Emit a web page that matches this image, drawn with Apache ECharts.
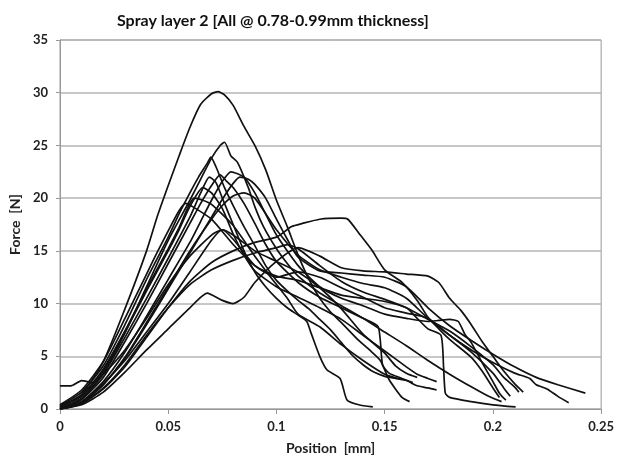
<!DOCTYPE html>
<html>
<head>
<meta charset="utf-8">
<script src="https://cdn.jsdelivr.net/npm/echarts@6/dist/echarts.min.js"></script>
<style>
  html, body { margin: 0; padding: 0; background: #fff; }
  #main { width: 617px; height: 465px; }
</style>
</head>
<body>
<div id="main"></div>
<script>
// force vs position curves as [position mm, force N]
var curve1 = [[0,0.2],[0.01,1.4],[0.02,4.5],[0.03,9.5],[0.04,15],[0.045,18.3],[0.05,21.2],[0.055,24],[0.06,26.7],[0.065,28.9],[0.07,29.9],[0.073,30.1],[0.076,29.8],[0.08,28.8],[0.085,26.8],[0.09,25],[0.095,22.7],[0.1,19.8],[0.105,17.3],[0.11,14.6],[0.115,12.3],[0.12,10.5],[0.125,9.2],[0.13,8.2],[0.138,6.5],[0.143,5.6],[0.148,4.6],[0.152,2.8],[0.158,1.1],[0.1615,0.7]];
var curve2 = [[0,0],[0.01,1],[0.02,3.4],[0.03,7.2],[0.04,11.6],[0.05,16],[0.06,19.8],[0.065,21.8],[0.07,23.8],[0.074,25],[0.076,25.3],[0.079,24],[0.082,23.4],[0.087,21],[0.09,19.2],[0.094,17.3],[0.1,15.2],[0.105,13.8],[0.11,12.6],[0.12,11],[0.13,9.8],[0.14,8.6],[0.15,7.3],[0.16,6],[0.17,4.6],[0.18,3.3],[0.19,2.1],[0.198,1.2],[0.204,0.7]];
var curve3 = [[0,0.3],[0.01,1.6],[0.02,4.1],[0.03,8],[0.04,12.3],[0.05,16.3],[0.055,18.5],[0.06,20.5],[0.064,22],[0.068,23.3],[0.0697,23.9],[0.072,23],[0.076,21],[0.08,19.3],[0.085,17.3],[0.09,15.5],[0.095,13.6],[0.1,12.2],[0.105,11.2],[0.11,10.3],[0.115,9.5],[0.12,8.5],[0.125,7.5],[0.13,6.3],[0.135,5.1],[0.14,4.2],[0.145,3.5],[0.15,3.1],[0.155,2.9],[0.16,2.7],[0.165,2.2],[0.17,2],[0.174,1.8]];
var curve4 = [[0,0.1],[0.01,1],[0.02,3.3],[0.03,6.8],[0.04,10.5],[0.05,14.3],[0.06,18.2],[0.065,20.5],[0.069,22],[0.072,21.5],[0.075,20],[0.08,17.5],[0.085,15],[0.09,13],[0.095,11.6],[0.1,10.5],[0.105,9.6],[0.11,8.9],[0.114,8.3],[0.116,7.2],[0.1202,4.9],[0.1234,3.7],[0.1294,2.9],[0.1326,0.85],[0.138,0.4],[0.1445,0.2]];
var curve5 = [[0,0],[0.01,0.9],[0.02,3],[0.03,6.4],[0.04,10],[0.05,13.8],[0.06,17.6],[0.065,19.5],[0.07,21.2],[0.074,22.2],[0.077,21.6],[0.08,21],[0.085,19.5],[0.09,17.6],[0.095,15.6],[0.1,14],[0.11,12],[0.12,10.6],[0.13,9.6],[0.14,8.6],[0.147,7.8],[0.149,4.2],[0.152,3.4],[0.158,2.9],[0.163,2.5]];
var curve6 = [[0,0],[0.01,0.7],[0.02,2.6],[0.03,5.4],[0.04,8.8],[0.05,12.3],[0.06,15.8],[0.065,17.8],[0.07,19.8],[0.075,21.6],[0.079,22.5],[0.085,22],[0.09,20.5],[0.095,18.5],[0.1,16.5],[0.11,13.6],[0.12,11.6],[0.13,10.5],[0.14,9.8],[0.15,9],[0.16,8.6],[0.17,8.3],[0.175,8.4],[0.18,8.5],[0.184,8.3],[0.187,7.1],[0.19,6.3],[0.195,4.4],[0.2,2.6],[0.203,1.5],[0.206,0.85]];
var curve7 = [[0,0.1],[0.01,0.6],[0.02,2.3],[0.03,4.8],[0.04,8],[0.05,11.4],[0.06,14.8],[0.07,18.2],[0.075,19.9],[0.08,21.4],[0.083,22],[0.087,21.8],[0.09,21.3],[0.095,20],[0.1,18],[0.105,16.1],[0.11,14.4],[0.12,13.1],[0.13,12.9],[0.14,12.7],[0.15,12.5],[0.16,11.6],[0.17,9.6],[0.18,7.9],[0.19,6.5],[0.2,5.2],[0.21,4],[0.22,3],[0.23,2.3],[0.2427,1.5]];
var curve8 = [[0,0.2],[0.01,1.2],[0.02,3.6],[0.03,7.3],[0.04,11.2],[0.05,15],[0.055,17],[0.06,19.2],[0.066,21],[0.07,20.5],[0.075,19],[0.08,16.6],[0.085,14.6],[0.09,13.1],[0.1,11.6],[0.11,10.6],[0.12,9.6],[0.13,8.5],[0.14,7],[0.15,5.5],[0.16,4],[0.165,3.3],[0.17,2.9],[0.174,2.6]];
var curve9 = [[0,0.4],[0.01,1.8],[0.02,4.5],[0.03,8.6],[0.04,12.8],[0.045,14.9],[0.05,16.9],[0.055,18.8],[0.058,19.5],[0.062,19.1],[0.07,18],[0.08,15.6],[0.09,13.6],[0.1,12.6],[0.11,12.2],[0.12,11.5],[0.13,10.8],[0.14,10.5],[0.15,10.2],[0.16,9.6],[0.165,8.6],[0.17,7.6],[0.176,7],[0.1772,4],[0.178,1.5],[0.18,1.1],[0.19,0.7],[0.2,0.4],[0.2105,0.2]];
var curve10 = [[0,0],[0.01,0.6],[0.02,2.3],[0.03,4.9],[0.04,8.2],[0.05,11.6],[0.06,15],[0.07,18],[0.075,19.3],[0.08,20.2],[0.085,20.5],[0.09,20],[0.1,17],[0.11,14.6],[0.12,13.2],[0.13,12.5],[0.14,11.9],[0.15,11.5],[0.16,10.5],[0.17,8.6],[0.18,7],[0.19,5.6],[0.2,4.4],[0.21,3.4],[0.217,2.9],[0.22,2.3],[0.225,1.9],[0.23,1.2],[0.235,0.6]];
var curve11 = [[0,0],[0.01,0.5],[0.02,1.9],[0.03,4],[0.04,6.8],[0.05,9.6],[0.06,12.1],[0.07,13.9],[0.08,15],[0.09,15.8],[0.1,16.3],[0.107,17.3],[0.112,17.6],[0.12,18],[0.13,18.1],[0.133,18],[0.138,16.7],[0.144,15.1],[0.15,13.2],[0.158,12],[0.165,10.3],[0.17,8.7],[0.175,7.6],[0.18,6.6],[0.19,4.9],[0.195,3.6],[0.2,2],[0.203,1.1]];
var curve12 = [[0,0],[0.01,0.4],[0.02,1.6],[0.03,3.5],[0.04,5.6],[0.05,7.6],[0.06,9.6],[0.068,11],[0.075,10.3],[0.08,10],[0.085,10.6],[0.09,12],[0.1,14],[0.11,15.3],[0.12,14.5],[0.13,13.4],[0.14,13.1],[0.15,13],[0.16,12.8],[0.17,12.6],[0.175,12],[0.18,10.5],[0.185,9.4],[0.19,8],[0.195,6.4],[0.2,5],[0.205,3.6],[0.21,2.4],[0.214,1.6]];
var curve13 = [[0,2.2],[0.005,2.2],[0.01,2.7],[0.015,2.5],[0.02,3.3],[0.03,5.6],[0.04,8.6],[0.05,11.8],[0.06,14.5],[0.07,16.5],[0.075,17],[0.08,16.5],[0.09,15],[0.1,14],[0.11,13],[0.12,11.5],[0.13,9.5],[0.14,7.1],[0.15,5.3],[0.155,4.1],[0.16,3.4],[0.165,3]];
var curve14 = [[0,0],[0.01,0.5],[0.02,2],[0.03,4.2],[0.04,7],[0.05,9.6],[0.06,11.8],[0.07,13.2],[0.08,14.1],[0.09,14.8],[0.1,15.3],[0.105,15.6],[0.11,15.2],[0.12,13.6],[0.13,12.1],[0.14,11.1],[0.15,10.4],[0.16,9.6],[0.17,8.5],[0.18,7.4],[0.19,5.9],[0.2,4.2],[0.205,3],[0.21,2.1],[0.212,1.6]];
var curve15 = [[0,0.3],[0.01,1.3],[0.02,3.8],[0.03,7.4],[0.04,11.4],[0.05,15.2],[0.055,17.2],[0.062,20],[0.066,19.8],[0.07,19.4],[0.08,17.4],[0.09,14.5],[0.1,11.8],[0.105,10.5],[0.11,9],[0.12,7.8],[0.13,6.1],[0.14,4.6],[0.15,3.3],[0.158,2.8]];
var curve16 = [[0,0.1],[0.01,0.7],[0.02,2.4],[0.03,4.6],[0.04,7.3],[0.05,10],[0.06,13],[0.07,16],[0.075,17],[0.08,16.1],[0.09,13.6],[0.1,12.5],[0.11,13],[0.12,12.5],[0.13,11.5],[0.14,10.6],[0.15,9.6],[0.16,9.1],[0.17,8.6],[0.18,7],[0.19,5.4],[0.2,3.4],[0.205,2],[0.208,1.2]];

var curves = [curve1, curve2, curve3, curve4, curve5, curve6, curve7, curve8,
              curve9, curve10, curve11, curve12, curve13, curve14, curve15, curve16];

var xTicks = [0, 0.05, 0.1, 0.15, 0.2, 0.25];
var yTicks = [0, 5, 10, 15, 20, 25, 30, 35];

var chartDom = document.getElementById('main');
var myChart = echarts.init(chartDom, null, { renderer: 'canvas' });
var option;

var tickFont = {
    color: '#222',
    fontFamily: 'Lato',
    fontWeight: 'bold',
    fontSize: 13
};
var nameFont = {
    color: '#222',
    fontFamily: 'Lato',
    fontWeight: 'bold',
    fontSize: 14
};

option = {
    animation: false,
    backgroundColor: '#fff',
    title: {
        text: 'Spray layer 2 [All @ 0.78-0.99mm thickness]',
        left: 112,
        top: 8,
        textStyle: {
            color: '#111',
            fontFamily: 'Lato',
            fontWeight: 'bold',
            fontSize: 16
        }
    },
    grid: {
        left: 58,
        right: 14,
        top: 40,
        bottom: 56,
        show: true,
        borderColor: '#999',
        borderWidth: 1
    },
    xAxis: {
        type: 'value',
        min: xTicks[0],
        max: xTicks[xTicks.length - 1],
        interval: 0.05,
        name: 'Position  [mm]',
        nameLocation: 'middle',
        nameGap: 32,
        nameTextStyle: nameFont,
        axisLine: { show: true, lineStyle: { color: '#999', width: 1 } },
        axisTick: { show: true, length: 5, lineStyle: { color: '#999' } },
        axisLabel: Object.assign({ margin: 11 }, tickFont),
        splitLine: { show: false }
    },
    yAxis: {
        type: 'value',
        min: yTicks[0],
        max: yTicks[yTicks.length - 1],
        interval: 5,
        name: 'Force  [N]',
        nameLocation: 'middle',
        nameGap: 38,
        nameTextStyle: nameFont,
        axisLine: { show: true, lineStyle: { color: '#999', width: 1 } },
        axisTick: { show: true, length: 4, lineStyle: { color: '#999' } },
        axisLabel: Object.assign({ margin: 12 }, tickFont),
        splitLine: { show: true, lineStyle: { color: '#b4b4b4', width: 1.5 } }
    },
    series: curves.map(function (c, i) {
        return {
            name: 'Sample ' + (i + 1),
            type: 'line',
            data: c,
            showSymbol: false,
            symbol: 'none',
            smooth: 0.2,
            lineStyle: { color: '#111', width: 1.7 }
        };
    })
};

option && myChart.setOption(option);
</script>
</body>
</html>
